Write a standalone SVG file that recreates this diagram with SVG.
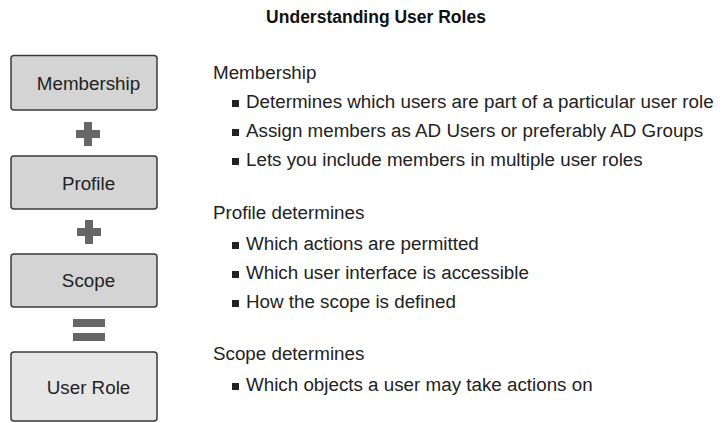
<svg xmlns="http://www.w3.org/2000/svg" width="726" height="423" viewBox="0 0 726 423">
<style>
.t{font-family:"Liberation Sans",Arial,sans-serif;font-size:18.8px;fill:#222}
.title{font-family:"Liberation Sans",Arial,sans-serif;font-size:17.5px;font-weight:bold;fill:#111}
.box{fill:#d4d4d4;stroke:#3a3a3a;stroke-width:1.5}
.box2{fill:#e6e6e6;stroke:#3a3a3a;stroke-width:1.5}
.op{fill:#666}
.bul{fill:#222}
</style>
<rect width="726" height="423" fill="#fff"/>
<text class="title" x="376" y="23" text-anchor="middle">Understanding User Roles</text>
<g id="membership"><rect class="box" x="11" y="55.5" width="146" height="54.5" rx="3"/><text class="t" x="88.5" y="89.5" text-anchor="middle">Membership</text></g>
<g id="profile"><rect class="box" x="11" y="156" width="146" height="53" rx="3"/><text class="t" x="88.5" y="189.5" text-anchor="middle">Profile</text></g>
<g id="scope"><rect class="box" x="11" y="254" width="146" height="53" rx="3"/><text class="t" x="88.5" y="287" text-anchor="middle">Scope</text></g>
<g id="userrole"><rect class="box2" x="11" y="352" width="146" height="69" rx="3"/><text class="t" x="88.5" y="394" text-anchor="middle">User Role</text></g>
<g id="connectors">
<path class="op" d="M84 122h8v8h8v8h-8v8h-8v-8h-8v-8h8z"/>
<path class="op" d="M85 220h8v8h8v8h-8v8h-8v-8h-8v-8h8z"/>
<rect class="op" x="73" y="319" width="32" height="8"/>
<rect class="op" x="73" y="333" width="32" height="8"/>
</g>
<g id="notes">
<text class="t" x="213" y="79">Membership</text>
<rect class="bul" x="232" y="100" width="7" height="7"/><text class="t" x="246" y="108">Determines which users are part of a particular user role</text>
<rect class="bul" x="232" y="129" width="7" height="7"/><text class="t" x="246" y="137">Assign members as AD Users or preferably AD Groups</text>
<rect class="bul" x="232" y="158" width="7" height="7"/><text class="t" x="246" y="166">Lets you include members in multiple user roles</text>
<text class="t" x="213" y="219">Profile determines</text>
<rect class="bul" x="232" y="242" width="7" height="7"/><text class="t" x="246" y="250">Which actions are permitted</text>
<rect class="bul" x="232" y="271" width="7" height="7"/><text class="t" x="246" y="279">Which user interface is accessible</text>
<rect class="bul" x="232" y="300" width="7" height="7"/><text class="t" x="246" y="308">How the scope is defined</text>
<text class="t" x="213" y="360">Scope determines</text>
<rect class="bul" x="232" y="383" width="7" height="7"/><text class="t" x="246" y="391">Which objects a user may take actions on</text>
</g>
</svg>
